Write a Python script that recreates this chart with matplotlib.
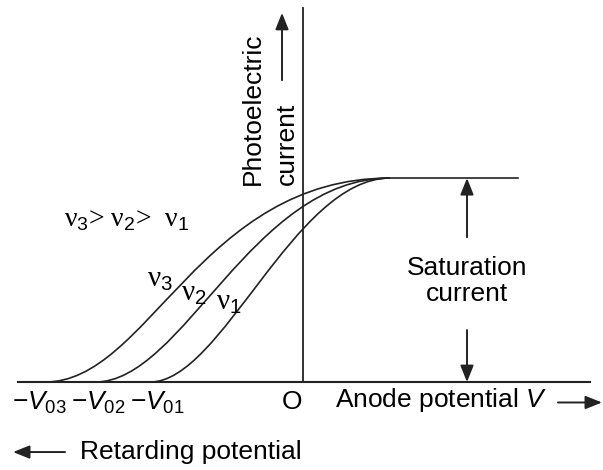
import matplotlib.pyplot as plt
from matplotlib.path import Path
from matplotlib.patches import PathPatch

plt.rcParams["font.family"] = ["Liberation Sans", "DejaVu Sans"]
plt.rcParams["mathtext.fontset"] = "custom"
plt.rcParams["mathtext.rm"] = "Liberation Sans"
plt.rcParams["mathtext.it"] = "Liberation Sans:italic"

# stopping potentials (O at 0) and saturation current (=1)
curve_labels = ["ν$_3$", "ν$_2$", "ν$_1$"]
stop_potentials = [-2.58, -2.08, -1.53]
merge_potential = 0.87
saturation = 1.0
line_end = 2.15
tick_labels = [r"$-V_{03}$", r"$-V_{02}$", r"$-V_{01}$"]

fig = plt.figure(figsize=(6.03, 4.70), dpi=100)
ax = fig.add_axes([0, 0, 1, 1])
ax.set_xlim(-3.03, 3.00)
ax.set_ylim(-0.431, 1.873)
ax.axis("off")

lw = 1.2
fs = 19
ink = "#222222"
greek = ["Liberation Serif", "DejaVu Serif"]

# axes
ax.plot([-2.85, 2.87], [0, 0], color=ink, lw=1.5)
ax.plot([0, 0], [0, 1.833], color=ink, lw=1.3)

# characteristic curves (cubic Bezier, flat at both ends)
shape = [(0.3, 0.55), (0.3, 0.47), (0.3, 0.40)]
for v0, (a, b) in zip(stop_potentials, shape):
    span = merge_potential - v0
    verts = [(v0, 0), (v0 + a * span, 0), (merge_potential - b * span, saturation),
             (merge_potential, saturation)]
    codes = [Path.MOVETO, Path.CURVE4, Path.CURVE4, Path.CURVE4]
    ax.add_patch(PathPatch(Path(verts, codes), fill=False, color=ink, lw=lw))
ax.plot([merge_potential, line_end], [saturation, saturation], color=ink, lw=lw)

# curve labels
label_pos = [(-1.43, 0.50), (-1.09, 0.43), (-0.74, 0.39)]
for lab, (x, y) in zip(curve_labels, label_pos):
    ax.text(x, y, lab, fontsize=21, ha="center", va="center", family=greek)
ax.text(-2.39, 0.79, "ν$_3$> ν$_2$>  ν$_1$", fontsize=20, ha="left", va="center",
        family=greek)

# tick labels
for lab, v0 in zip(tick_labels, [-2.64, -2.05, -1.46]):
    ax.text(v0, -0.10, lab, fontsize=fs, ha="center", va="center")
ax.text(-0.11, -0.10, "O", fontsize=fs, ha="center", va="center")

# saturation current arrows
arr = dict(arrowstyle="-|>,head_length=1.0,head_width=0.4", color=ink, lw=1.4,
           shrinkA=0, shrinkB=0)
ax.annotate("", xy=(1.64, saturation), xytext=(1.64, 0.71), arrowprops=arr)
ax.annotate("", xy=(1.64, 0), xytext=(1.64, 0.255), arrowprops=arr)
ax.text(1.64, 0.495, "Saturation\ncurrent", fontsize=fs, ha="center", va="center",
        linespacing=1.1)

# axis titles
ax.text(0.32, -0.09, "Anode potential $V$", fontsize=fs, ha="left", va="center")
ax.annotate("", xy=(2.99, -0.10), xytext=(2.55, -0.10), arrowprops=arr)
ax.annotate("", xy=(-2.90, -0.343), xytext=(-2.38, -0.343), arrowprops=arr)
ax.text(-2.23, -0.343, "Retarding potential", fontsize=fs, ha="left", va="center")

ax.text(-0.50, 0.965, "Photoelectric", fontsize=fs, rotation=90, rotation_mode="anchor",
        ha="left", va="center")
ax.text(-0.16, 0.965, "current", fontsize=fs, rotation=90, rotation_mode="anchor",
        ha="left", va="center")
ax.annotate("", xy=(-0.21, 1.81), xytext=(-0.21, 1.48), arrowprops=arr)

fig.savefig("out.png", dpi=100)
